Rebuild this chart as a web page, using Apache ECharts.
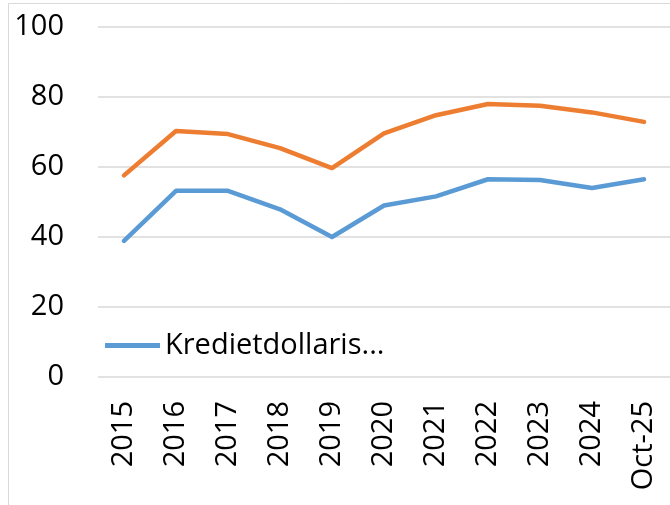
<!DOCTYPE html>
<html><head><meta charset="utf-8">
<script src="https://cdn.jsdelivr.net/npm/echarts@6/dist/echarts.min.js"></script>
<style>html,body{margin:0;padding:0;background:#fff}#c{width:670px;height:505px}</style>
</head><body><div id="c"></div>
<script>
const categories = ['2015','2016','2017','2018','2019','2020','2021','2022','2023','2024','Oct-25'];
const kredietValues = [38.9, 53.2, 53.2, 47.9, 40.0, 49.0, 51.6, 56.5, 56.3, 54.0, 56.5];
const depositoValues = [57.6, 70.3, 69.4, 65.4, 59.7, 69.6, 74.8, 78.0, 77.5, 75.6, 72.9];
const yTicks = [0, 20, 40, 60, 80, 100];
const seriesNames = ['Kredietdollarisatie', 'Depositodollarisatie'];
const legendLabel = 'Kredietdollaris...';

const font = 'Open Sans';
const chart = echarts.init(document.getElementById('c'), null, {renderer:'canvas'});
chart.setOption({
  animation: false,
  graphic: [{type:'rect', shape:{x:8.5, y:3.5, width:700, height:600}, style:{fill:'none', stroke:'#D9D9D9', lineWidth:1}}],
  grid: {left: 98, right: -7, top: 27, bottom: 128, containLabel: false},
  legend: {
    data: [seriesNames[0]], left: 100, top: 326, icon: 'rect', itemWidth: 55, itemHeight: 5, itemGap: 4,
    formatter: () => legendLabel,
    textStyle: {fontFamily: font, fontSize: 29, color: '#000'}
  },
  xAxis: {
    type: 'category', data: categories, boundaryGap: true,
    axisLine: {show: false}, axisTick: {show: false},
    axisLabel: {rotate: 90, margin: 24, fontFamily: font, fontSize: 29, color: '#000', interval: 0}
  },
  yAxis: {
    type: 'value', min: yTicks[0], max: yTicks[yTicks.length-1], interval: 20,
    axisLine: {show: false}, axisTick: {show: false},
    splitLine: {lineStyle: {color: '#D9D9D9', width: 1.5}},
    axisLabel: {margin: 34, fontFamily: font, fontSize: 29, color: '#000'}
  },
  series: [
    {name: seriesNames[0], type: 'line', data: kredietValues, symbol: 'none', lineStyle: {color: '#5B9BD5', width: 4.5, cap:'round', join:'round'}, itemStyle: {color: '#5B9BD5'}},
    {name: seriesNames[1], type: 'line', data: depositoValues, symbol: 'none', lineStyle: {color: '#ED7D31', width: 4.5, cap:'round', join:'round'}, itemStyle: {color: '#ED7D31'}}
  ]
});
</script></body></html>
